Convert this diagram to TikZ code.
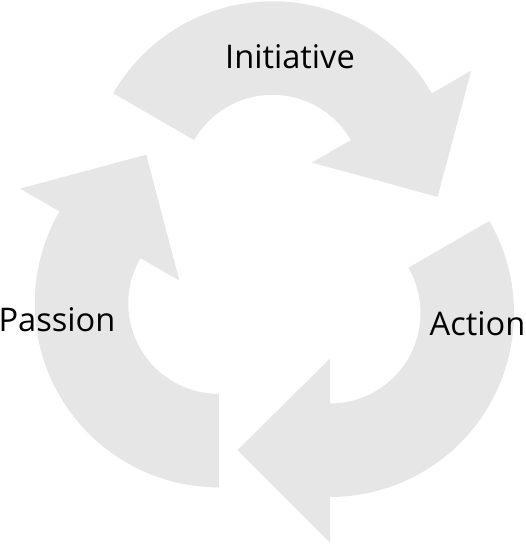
\documentclass[tikz,border=0pt]{standalone}
\usepackage{fontspec}
\setmainfont{Open Sans}
\usepackage{tikz}
\usetikzlibrary{positioning, calc}
\definecolor{cyclegray}{HTML}{E6E6E6}
\tikzstyle{cyclearrow} = [fill=cyclegray, draw=none]
\tikzstyle{cyclelabel} = [inner sep=0pt, anchor=base, text=black, font=\fontsize{32.6}{39}\selectfont]
% ring arrow: #1 centre, #2 tail angle, #3 head angle
\newcommand{\ringarrow}[3]{%
  \fill[cyclearrow, shift={#1}] (#2:184) arc[start angle=#2, end angle=#3, radius=184]
    -- (#3:229.5) -- (#3-34:165.5) -- (#3:45.5) -- (#3:90.5)
    arc[start angle=#3, end angle=#2, radius=90.5] -- cycle;}

\begin{document}
\begin{tikzpicture}[x=1pt, y=1pt]
    \useasboundingbox (0,0) rectangle (526,546);

    % Arrows of the cycle
    \ringarrow{(272.5,360.7)}{150}{30}
    \ringarrow{(330,233)}{30}{-90}
    \ringarrow{(218.8,242.6)}{270}{150}

    % Labels
    \node[cyclelabel] (initiative) at (290,477.7) {Initiative};
    \node[cyclelabel] (action) at (477.5,210.3) {Action};
    \node[cyclelabel] (passion) at (57,214.3) {Passion};
\end{tikzpicture}
\end{document}
